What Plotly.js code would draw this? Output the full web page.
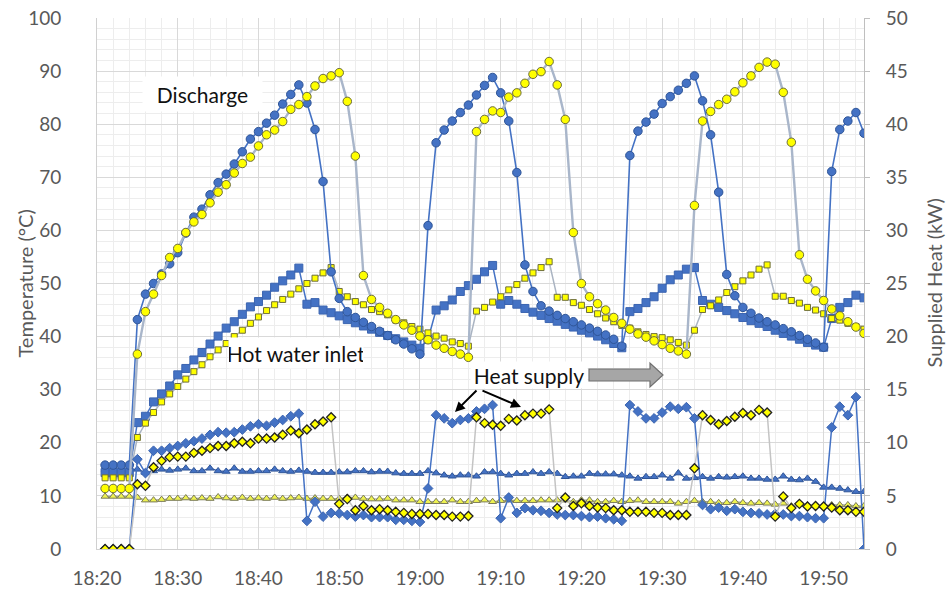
<!DOCTYPE html>
<html>
<head>
<meta charset="utf-8">
<script src="https://cdn.plot.ly/plotly-3.0.1.min.js"></script>
<style>
  html, body { margin: 0; padding: 0; background: #ffffff; }
  #chart { width: 946px; height: 591px; }
</style>
</head>
<body>
<div id="chart"></div>
<script>
// One-minute samples, 18:21 to 19:55
const clock = [
  '18:21','18:22','18:23','18:24','18:25','18:26','18:27','18:28','18:29','18:30',
  '18:31','18:32','18:33','18:34','18:35','18:36','18:37','18:38','18:39','18:40',
  '18:41','18:42','18:43','18:44','18:45','18:46','18:47','18:48','18:49','18:50',
  '18:51','18:52','18:53','18:54','18:55','18:56','18:57','18:58','18:59','19:00',
  '19:01','19:02','19:03','19:04','19:05','19:06','19:07','19:08','19:09','19:10',
  '19:11','19:12','19:13','19:14','19:15','19:16','19:17','19:18','19:19','19:20',
  '19:21','19:22','19:23','19:24','19:25','19:26','19:27','19:28','19:29','19:30',
  '19:31','19:32','19:33','19:34','19:35','19:36','19:37','19:38','19:39','19:40',
  '19:41','19:42','19:43','19:44','19:45','19:46','19:47','19:48','19:49','19:50',
  '19:51','19:52','19:53','19:54','19:55'
];

// Discharge temperature (°C), tank A (blue) and tank B (yellow)
const dischargeA = [
  15.8,15.8,15.8,15.8,43.2,48.0,50.0,51.8,53.7,55.8,
  59.5,62.5,64.0,66.7,69.0,70.6,72.5,74.8,77.2,78.6,
  80.2,81.7,83.8,85.6,87.4,84.0,79.0,69.2,52.2,47.2,
  44.7,43.6,42.7,41.9,41.0,40.2,39.4,38.6,37.7,36.7,
  60.9,76.5,78.9,80.6,82.2,83.6,85.5,87.3,88.8,85.9,
  80.6,70.9,53.5,48.5,45.8,44.8,44.0,43.4,42.8,42.2,
  41.6,41.0,40.3,39.5,38.2,74.1,78.7,80.4,81.9,83.9,
  85.2,86.4,87.7,89.1,84.4,78.0,67.2,51.7,47.7,45.5,
  44.4,43.5,42.8,42.2,41.5,40.9,40.2,39.5,38.8,38.0,
  71.1,79.0,80.6,82.2,78.3
];
const dischargeB = [
  11.4,11.4,11.4,11.4,36.7,44.7,48.0,51.5,54.9,56.6,
  59.6,61.6,63.0,65.2,67.2,68.6,70.8,72.6,73.8,75.9,
  78.0,78.9,80.5,82.8,83.7,85.2,87.2,88.6,89.1,89.7,
  84.3,74.0,51.5,47.0,45.5,44.4,43.2,42.2,41.2,40.1,
  39.4,38.4,37.8,37.2,36.7,36.1,78.6,80.9,82.5,82.2,
  85.1,85.9,87.7,89.4,89.9,91.8,87.4,80.9,59.6,50.0,
  47.5,46.2,45.0,43.6,42.5,41.4,40.5,39.9,39.2,38.5,
  37.8,37.3,36.7,64.7,80.6,82.4,83.7,84.7,86.1,87.8,
  89.1,90.7,91.7,91.3,86.0,76.6,55.4,50.8,48.6,46.8,
  45.2,43.9,42.8,41.8,40.6
];

// Hot water inlet temperature (°C)
const inletA = [
  14.4,14.4,14.4,14.4,23.8,25.0,27.7,29.2,30.7,32.8,
  34.0,35.6,37.0,38.6,40.1,41.6,42.8,44.2,45.6,46.6,
  47.8,49.3,50.5,51.6,52.9,46.1,46.4,45.0,44.5,43.9,
  43.2,42.6,42.0,41.4,40.8,40.2,39.6,39.0,38.4,37.8,
  39.5,45.0,45.8,46.9,48.5,49.6,50.8,52.2,53.4,46.1,
  46.8,46.1,45.3,44.6,44.0,43.4,42.9,42.3,41.8,41.2,
  40.7,40.1,39.4,38.7,37.9,44.7,45.3,46.4,47.5,49.1,
  50.7,51.6,52.7,53.0,46.8,46.1,45.5,44.9,44.3,43.6,
  43.0,42.5,41.9,41.2,40.6,40.1,39.5,38.9,38.4,38.0,
  43.4,45.5,46.4,47.8,47.3
];
const inletB = [
  13.4,13.4,13.4,13.4,21.0,23.7,25.7,27.7,29.2,30.6,
  32.0,33.4,34.7,36.2,37.5,38.7,40.0,41.2,42.5,43.7,
  44.9,46.0,47.0,48.0,49.0,50.0,51.0,52.0,53.0,48.5,
  47.5,46.6,46.0,45.1,44.7,44.1,43.1,42.6,41.9,41.4,
  40.7,40.1,39.7,39.0,38.7,38.2,44.8,45.5,46.5,47.5,
  48.8,49.8,51.0,52.0,53.0,54.1,47.4,47.4,46.4,45.9,
  45.1,44.3,43.5,42.8,42.1,41.6,40.9,40.4,40.0,39.8,
  39.4,38.9,38.4,41.2,45.1,45.8,46.9,48.3,49.4,50.5,
  51.6,52.7,53.5,47.6,47.6,46.8,46.3,45.5,45.0,44.3,
  43.4,43.1,42.5,41.9,41.4
];

// Supplied heat (kW)
const heatA = [
  0,0,0,0,8.45,7.15,9.25,9.25,9.5,9.7,
  9.95,10.15,10.4,10.75,11.0,10.95,11.0,11.25,11.55,11.75,
  11.6,11.9,12.15,12.5,12.75,2.65,4.45,3.05,3.4,3.35,
  3.2,3.05,3.2,3.0,3.0,3.0,2.75,2.75,2.65,2.55,
  5.7,12.6,12.3,11.85,12.15,12.3,12.95,13.2,13.55,2.9,
  4.85,3.4,3.85,3.65,3.6,3.4,3.25,3.2,3.2,3.1,
  3.0,3.05,2.9,2.8,2.65,13.55,12.95,12.3,12.3,12.85,
  13.4,13.2,13.35,12.3,4.15,3.75,3.9,3.6,3.75,3.5,
  3.4,3.35,3.25,3.3,3.25,3.1,3.1,3.0,2.9,2.9,
  11.45,13.4,12.6,14.3,0
];
const heatB = [
  0,0,0,0,6.1,5.95,7.7,8.3,8.65,8.7,
  8.7,9.05,9.25,9.5,9.7,9.7,9.95,10.1,9.95,10.4,
  10.4,10.5,10.75,11.15,10.9,11.25,11.75,12.0,12.4,4.25,
  4.7,3.65,4.05,3.65,3.75,3.65,3.5,3.4,3.3,3.3,
  3.3,3.2,3.2,3.05,3.05,3.1,12.4,11.85,11.7,11.6,
  12.25,12.1,12.6,12.75,12.75,13.15,3.85,4.85,4.05,4.3,
  4.05,3.9,3.85,3.65,3.65,3.5,3.5,3.5,3.4,3.4,
  3.2,3.2,3.2,7.6,12.6,12.15,11.75,12.05,12.45,12.8,
  12.6,13.1,12.85,3.05,4.95,3.85,4.25,4.0,4.05,4.0,
  3.9,3.65,3.65,3.5,3.5
];

// Return-side temperatures (°C)
const returnA = [
  15.0,15.0,15.0,15.0,15.0,14.4,14.7,15.0,14.8,15.0,
  15.2,14.7,14.7,15.2,14.7,14.6,15.2,14.6,14.6,14.7,
  14.7,15.0,14.7,14.6,14.8,14.6,14.4,14.4,14.4,14.5,
  14.5,14.7,14.7,14.5,14.6,14.6,14.3,14.2,14.2,14.2,
  14.7,14.3,13.9,13.7,13.9,13.9,13.7,14.5,14.5,14.2,
  13.9,14.2,14.2,14.5,14.2,14.5,14.2,13.6,13.7,13.7,
  14.2,14.1,14.1,14.1,13.9,13.7,13.3,13.6,13.6,13.9,
  13.3,14.3,13.3,13.4,13.6,13.3,13.6,13.5,13.6,13.7,
  13.3,13.3,13.1,13.1,13.7,13.1,13.0,13.3,12.7,11.6,
  11.6,11.4,11.1,10.8,10.8
];
const returnB = [
  9.9,9.9,9.9,9.9,9.7,9.2,9.2,9.3,9.5,9.5,
  9.6,9.5,9.6,9.5,9.8,9.6,9.5,9.7,9.5,9.6,
  9.5,9.7,9.5,9.6,9.7,9.5,9.6,9.5,9.5,9.5,
  9.7,9.7,9.5,9.4,9.4,9.5,9.2,9.2,9.2,8.9,
  8.9,8.9,8.9,9.2,8.9,8.9,9.1,9.2,8.9,9.1,
  9.2,9.1,9.1,9.1,9.2,9.2,9.2,9.2,8.9,9.2,
  9.2,8.9,8.9,9.1,8.9,9.1,9.2,8.9,8.9,8.9,
  8.9,8.6,8.9,9.1,8.9,8.9,8.7,8.7,8.9,8.7,
  8.6,8.7,8.6,8.4,8.6,8.1,8.4,8.3,8.3,8.1,
  8.3,8.3,8.3,8.1,8.1
];

const day = '2024-01-01 ';
const times = clock.map(c => day + c);

const BLUE = '#4472C4';
const BLUE_EDGE = '#2F5597';
const YELLOW = '#FFFF00';

function series(values, opts) {
  return {
    type: 'scatter',
    mode: 'lines+markers',
    x: times,
    y: values,
    yaxis: opts.axis || 'y',
    hoverinfo: 'skip',
    line: { color: opts.line, width: opts.lineWidth || 1.5 },
    marker: {
      symbol: opts.symbol,
      size: opts.size,
      color: opts.fill,
      line: { color: opts.edge, width: opts.edgeWidth || 1 }
    },
    showlegend: false
  };
}

const traces = [
  series(returnA,    { symbol: 'triangle-up', size: 7,   fill: BLUE,   edge: BLUE_EDGE, line: '#3A5FA8', lineWidth: 1.3 }),
  series(returnB,    { symbol: 'triangle-up', size: 7,   fill: '#EEF250', edge: '#7A7A58', line: '#A4A68A', lineWidth: 1.3 }),
  series(inletA,     { symbol: 'square',      size: 8,   fill: BLUE,   edge: '#3B64B0', line: BLUE, lineWidth: 1.5 }),
  series(inletB,     { symbol: 'square',      size: 6,   fill: YELLOW, edge: '#6E6E3A', line: '#AAB4C2', lineWidth: 1.5 }),
  series(dischargeA, { symbol: 'circle',      size: 8.5, fill: BLUE,   edge: BLUE_EDGE, line: BLUE, lineWidth: 1.6 }),
  series(dischargeB, { symbol: 'circle',      size: 8.5, fill: YELLOW, edge: '#6B6B3A', line: '#A9B6CA', lineWidth: 2.4 }),
  series(heatA,      { symbol: 'diamond',     size: 7.5, fill: BLUE,   edge: '#3B64B0', line: BLUE, lineWidth: 1.5, axis: 'y2' }),
  series(heatB,      { symbol: 'diamond',     size: 7,   fill: YELLOW, edge: '#222222', edgeWidth: 1.3, line: '#C4C4C4', lineWidth: 1.5, axis: 'y2' })
];

// plot-area pixel -> paper coordinates (plot area spans x 97..864, y 18..549)
const L = 97, R = 864, T = 18, B = 549;
const px = v => (v - L) / (R - L);
const py = v => (B - v) / (B - T);

const FAMILY = 'Lato, "Open Sans", sans-serif';
const labelFont = { family: FAMILY, size: 21, color: '#111111' };
const titleFont = { family: FAMILY, size: 20, color: '#595959' };

function boxLabel(text, cx, cy, w, h) {
  return { text: text, x: px(cx), y: py(cy), xref: 'paper', yref: 'paper',
    xanchor: 'center', yanchor: 'middle', showarrow: false,
    width: w, height: h, align: 'center', valign: 'middle',
    font: labelFont, bgcolor: '#ffffff', borderpad: 0 };
}

function axisTitle(text, cx) {
  return { text: text, x: px(cx), y: py(283.5), xref: 'paper', yref: 'paper',
    showarrow: false, textangle: -90, xanchor: 'center', yanchor: 'middle', font: titleFont };
}

const annotations = [
  boxLabel('Discharge', 202, 94, 119, 34),
  boxLabel('Hot water inlet', 296, 353, 134, 30),
  boxLabel('Heat supply', 529, 375, 116, 26),
  { text: '', x: px(455), y: py(412), xref: 'paper', yref: 'paper', showarrow: true,
    ax: 23, ay: -23, arrowhead: 2, arrowsize: 1, arrowwidth: 2, arrowcolor: '#000000' },
  { text: '', x: px(521), y: py(407), xref: 'paper', yref: 'paper', showarrow: true,
    ax: -40, ay: -17, arrowhead: 2, arrowsize: 1, arrowwidth: 2, arrowcolor: '#000000' },
  axisTitle('Temperature (°C)', 24),
  axisTitle('Supplied Heat (kW)', 933)
];

// grey block arrow next to the heat-supply label
const blockArrow = {
  type: 'path', xref: 'paper', yref: 'paper',
  path: 'M ' + px(589) + ' ' + py(369) +
        ' L ' + px(650) + ' ' + py(369) +
        ' L ' + px(650) + ' ' + py(363) +
        ' L ' + px(663) + ' ' + py(375) +
        ' L ' + px(650) + ' ' + py(387) +
        ' L ' + px(650) + ' ' + py(381) +
        ' L ' + px(589) + ' ' + py(381) + ' Z',
  fillcolor: '#A6A6A6',
  line: { color: '#6F6F6F', width: 1.2 }
};

const tickFont = { family: FAMILY, size: 19, color: '#595959' };

const layout = {
  width: 946, height: 591,
  margin: { l: L, r: 946 - R, t: T, b: 591 - B, pad: 0 },
  paper_bgcolor: '#ffffff',
  plot_bgcolor: '#ffffff',
  showlegend: false,
  xaxis: {
    type: 'date',
    range: [day + '18:20', day + '19:55'],
    tick0: day + '18:20',
    dtick: 600000,
    tickformat: '%H:%M',
    tickfont: tickFont,
    ticks: '',
    ticklabelstandoff: 12,
    showgrid: true, gridcolor: '#D9D9D9', gridwidth: 1,
    minor: { dtick: 120000, showgrid: true, gridcolor: '#EDEDED', gridwidth: 1 },
    showline: true, linecolor: '#D0D0D0', linewidth: 1,
    zeroline: false, automargin: false
  },
  yaxis: {
    range: [0, 100], dtick: 10,
    tickfont: tickFont,
    ticks: '',
    ticklabelstandoff: 31,
    showgrid: true, gridcolor: '#D9D9D9', gridwidth: 1,
    minor: { dtick: 2, showgrid: true, gridcolor: '#EDEDED', gridwidth: 1 },
    showline: true, linecolor: '#D0D0D0', linewidth: 1,
    zeroline: false, automargin: false
  },
  yaxis2: {
    overlaying: 'y', side: 'right',
    range: [0, 50], dtick: 5,
    tickfont: tickFont,
    ticks: 'outside', ticklen: 5, tickcolor: '#BFBFBF',
    ticklabelstandoff: 12,
    showgrid: false,
    showline: true, linecolor: '#BFBFBF', linewidth: 1,
    zeroline: false, automargin: false
  },
  annotations: annotations,
  shapes: [blockArrow]
};

Plotly.newPlot('chart', traces, layout, { staticPlot: true, displayModeBar: false });
</script>
</body>
</html>
